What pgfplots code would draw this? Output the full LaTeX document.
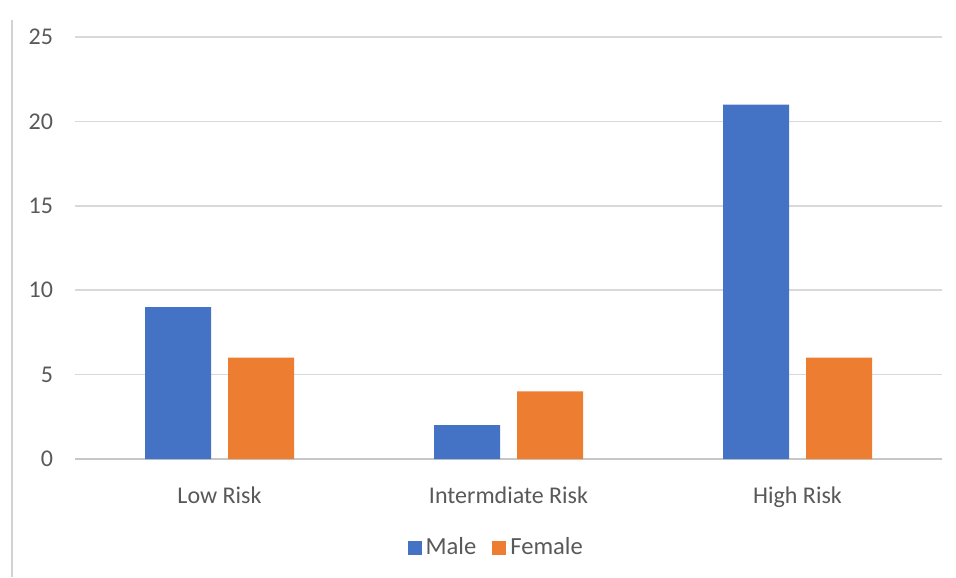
\documentclass[border=0pt]{standalone}
\usepackage{pgfplots}
\pgfplotsset{compat=1.18}
\usepackage{fontspec}
\setmainfont{Carlito}
\definecolor{mblue}{HTML}{4472C4}
\definecolor{forange}{HTML}{ED7D31}
\definecolor{tickgray}{HTML}{595959}
\definecolor{gridgray}{HTML}{D9D9D9}
\begin{document}
\begin{tikzpicture}
\useasboundingbox (-37.5pt,-59pt) rectangle (440.5pt,229.5pt);
\draw[gray!35, line width=1pt] (-31.5pt,-59pt) -- (-31.5pt,219.5pt);
\begin{axis}[
  at={(0pt,0pt)}, anchor=south west,
  scale only axis,
  width=433.5pt, height=211pt,
  ybar=8.5pt, bar width=33pt,
  xmin=-0.5, xmax=2.5,
  ymin=0, ymax=25,
  ytick={0,5,10,15,20,25},
  xtick={0,1,2},
  xticklabels={Low Risk, Intermdiate Risk, High Risk},
  axis x line*=bottom,
  axis y line*=left,
  y axis line style={draw=none},
  x axis line style={draw=gridgray!80!gray, line width=0.8pt},
  ymajorgrids=true,
  grid style={draw=gridgray, line width=0.8pt},
  major tick length=0pt,
  /pgf/number format/assume math mode=true,
  tick label style={font=\fontsize{12}{14}\selectfont, text=tickgray},
  yticklabel style={xshift=-7.5pt},
  xticklabel style={yshift=-10.5pt},
  legend style={at={(axis description cs:0.487,-0.2085)}, anchor=center,
    draw=none, fill=none, font=\fontsize{12.3}{14}\selectfont, text=tickgray,
    /tikz/every even column/.append style={column sep=6pt}},
  legend columns=2,
  legend image code/.code={\fill[#1] (0pt,-4pt) rectangle (7pt,3pt);},
  legend cell align=left,
]
\addplot[fill=mblue, draw=none] coordinates {(0,9) (1,2) (2,21)};
\addplot[fill=forange, draw=none] coordinates {(0,6) (1,4) (2,6)};
\legend{Male, Female}
\end{axis}
\end{tikzpicture}
\end{document}
